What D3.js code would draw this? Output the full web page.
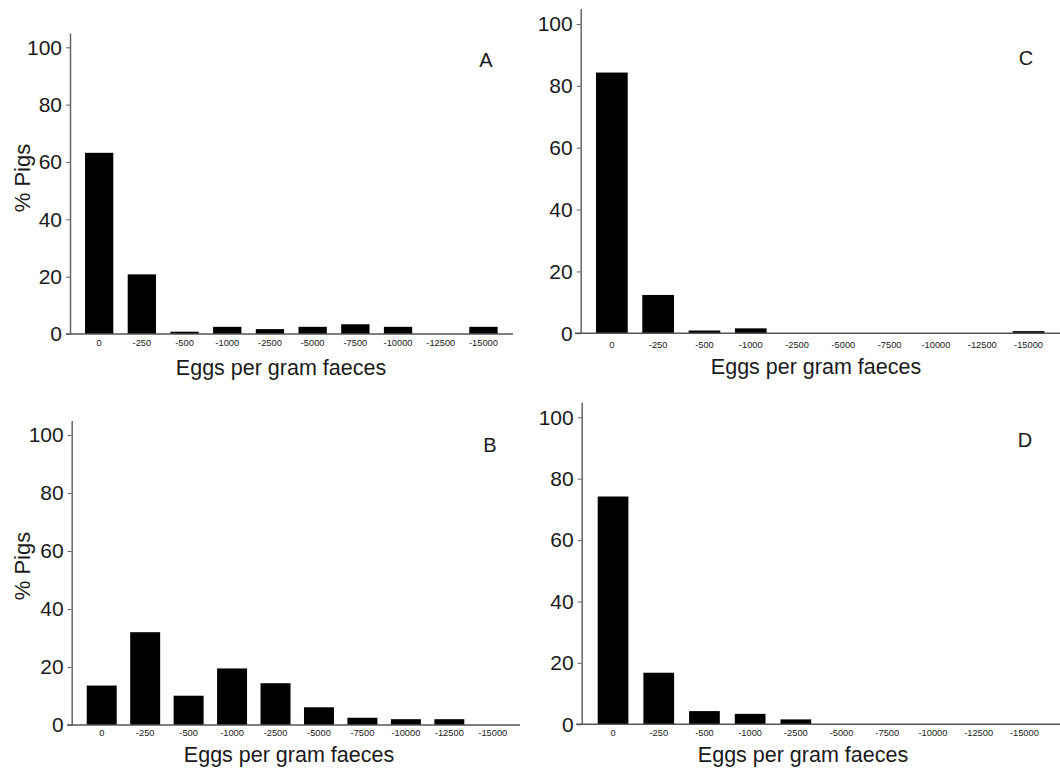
<!DOCTYPE html>
<html>
<head>
<meta charset="utf-8">
<script src="https://cdn.jsdelivr.net/npm/d3@7"></script>
<style>
  body { margin: 0; background: #fff; }
  svg { display: block; font-family: "Liberation Sans", Arial, sans-serif; }
  .tick text { fill: #1a1a1a; }
</style>
</head>
<body>
<div id="chart"></div>
<script>
// egg count classes (eggs per gram faeces)
const categories = ["0", "-250", "-500", "-1000", "-2500", "-5000", "-7500", "-10000", "-12500", "-15000"];
// % pigs in each class, per panel
const pctA = [63.2, 20.8, 0.8, 2.5, 1.7, 2.5, 3.4, 2.5, 0, 2.5];
const pctB = [13.6, 32, 10.1, 19.5, 14.4, 6.1, 2.5, 2, 2, 0];
const pctC = [84.3, 12.4, 0.9, 1.6, 0, 0, 0, 0, 0, 0.7];
const pctD = [74.2, 16.8, 4.3, 3.4, 1.6, 0, 0, 0, 0, 0];
const yTicks = [0, 20, 40, 60, 80, 100];
const panelLetters = ["A", "B", "C", "D"];

const W = 1060, H = 771;
const svg = d3.select("#chart").append("svg")
  .attr("width", W)
  .attr("height", H);

// layout of each panel (pixels)
const panels = [
  { letter: panelLetters[0], values: pctA, axisX: 70, y0: 334, y100: 47.3, band: [77.8, 504.8], pad: 0.337,
    xLine: [66, 513], tickDy: 5, title: [281, 375], ylabel: [22, 178], letterPos: [486, 67] },
  { letter: panelLetters[1], values: pctB, axisX: 71.7, y0: 725, y100: 435, band: [80, 514.5], pad: 0.31,
    xLine: [67, 520], tickDy: 4, title: [289, 762], ylabel: [22, 566], letterPos: [490, 452] },
  { letter: panelLetters[2], values: pctC, axisX: 580.7, y0: 333.3, y100: 24, band: [588.7, 1051.7], pad: 0.315,
    xLine: [575, 1060], tickDy: 8, title: [816, 374], ylabel: null, letterPos: [1026, 65] },
  { letter: panelLetters[3], values: pctD, axisX: 581.7, y0: 724.3, y100: 417.3, band: [590.2, 1047.2], pad: 0.328,
    xLine: [576, 1060], tickDy: 5, title: [803, 762], ylabel: null, letterPos: [1025, 447] }
];

panels.forEach(p => {
  const g = svg.append("g");
  const pxPerUnit = (p.y0 - p.y100) / 100;

  const x = d3.scaleBand()
    .domain(categories)
    .range(p.band)
    .paddingInner(p.pad)
    .paddingOuter(p.pad / 2);

  const y = d3.scaleLinear()
    .domain([0, 105])
    .range([p.y0, p.y0 - 105 * pxPerUnit]);

  // bars
  g.selectAll("rect.bar")
    .data(categories.map((c, i) => ({ cat: c, val: p.values[i] })))
    .enter().append("rect")
    .attr("class", "bar")
    .attr("x", d => x(d.cat))
    .attr("width", x.bandwidth())
    .attr("y", d => y(d.val))
    .attr("height", d => p.y0 - y(d.val))
    .attr("fill", "#000");

  // y axis
  const yAxis = g.append("g")
    .attr("transform", `translate(${p.axisX},0)`)
    .call(d3.axisLeft(y).tickValues(yTicks).tickSize(4).tickPadding(4).tickSizeOuter(0));
  yAxis.select(".domain").attr("stroke", "#666").attr("stroke-width", 1.5);
  yAxis.selectAll(".tick line").attr("stroke", "#666");
  yAxis.selectAll(".tick text").attr("font-size", 21).attr("fill", "#1a1a1a");

  // x axis (labels only, no tick marks)
  const xAxis = g.append("g")
    .attr("transform", `translate(0,${p.y0})`)
    .call(d3.axisBottom(x).tickSize(0).tickPadding(p.tickDy));
  xAxis.select(".domain").remove();
  xAxis.selectAll(".tick text").attr("font-size", 9.3).attr("fill", "#333");

  g.append("line")
    .attr("x1", p.xLine[0]).attr("x2", p.xLine[1])
    .attr("y1", p.y0).attr("y2", p.y0)
    .attr("stroke", "#555").attr("stroke-width", 1.5);

  // axis titles
  g.append("text")
    .attr("x", p.title[0]).attr("y", p.title[1])
    .attr("text-anchor", "middle")
    .attr("font-size", 21.5)
    .attr("fill", "#1a1a1a")
    .text("Eggs per gram faeces");

  if (p.ylabel) {
    g.append("text")
      .attr("transform", `translate(${p.ylabel[0]},${p.ylabel[1]}) rotate(-90)`)
      .attr("text-anchor", "middle")
      .attr("dominant-baseline", "central")
      .attr("font-size", 22)
      .attr("fill", "#1a1a1a")
      .text("% Pigs");
  }

  // panel letter
  g.append("text")
    .attr("x", p.letterPos[0]).attr("y", p.letterPos[1])
    .attr("text-anchor", "middle")
    .attr("font-size", 20)
    .attr("fill", "#1a1a1a")
    .text(p.letter);
});
</script>
</body>
</html>
